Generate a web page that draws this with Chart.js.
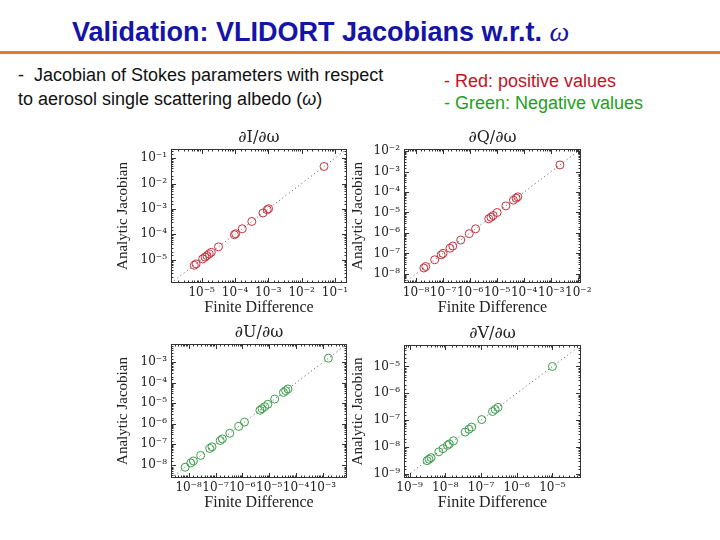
<!DOCTYPE html>
<html>
<head>
<meta charset="utf-8">
<script src="https://cdn.jsdelivr.net/npm/chart.js@4"></script>
<style>
body { margin: 0; width: 720px; height: 540px; background: #fff; position: relative; overflow: hidden; font-family: "Liberation Sans", Arial, sans-serif; }
.abs { position: absolute; white-space: nowrap; }
#title { left: 72px; top: 18px; font-size: 27px; line-height: 27px; font-weight: bold; color: #1414a8; }
#title i { font-family: "Liberation Serif", serif; font-weight: normal; font-size: 28px; }
#rule { left: 0; top: 51px; width: 720px; height: 3px; background: #e8782a; }
#desc { left: 18px; top: 63px; font-size: 18px; line-height: 24px; color: #111; }
#key { left: 444px; top: 70px; font-size: 18px; line-height: 22px; }
canvas { position: absolute; }
</style>
</head>
<body>
<div id="title" class="abs">Validation: VLIDORT Jacobians w.r.t. <i>ω</i></div>
<div id="rule" class="abs"></div>
<div id="desc" class="abs">-&nbsp; Jacobian of Stokes parameters with respect<br>to aerosol single scattering albedo (<i>ω</i>)</div>
<div id="key" class="abs"><span style="color:#c0141e">- Red: positive values</span><br><span style="color:#1e9e1e">- Green: Negative values</span></div>

<canvas id="cI" width="258" height="188" style="left:111px; top:129px"></canvas>
<canvas id="cQ" width="257" height="188" style="left:346px; top:129px"></canvas>
<canvas id="cU" width="258" height="188" style="left:111px; top:324px"></canvas>
<canvas id="cV" width="257" height="187" style="left:346px; top:325px"></canvas>

<script>
// finite difference (x) and analytic (y) Jacobians
const fdI = [6.0e-6, 6.8e-6, 1.07e-5, 1.26e-5, 1.44e-5, 1.67e-5, 1.95e-5, 3.2e-5, 9.6e-5, 1.05e-4, 1.65e-4, 3.2e-4, 6.9e-4, 9.3e-4, 1.02e-3, 4.7e-2];
const ajI = [6.0e-6, 6.8e-6, 1.07e-5, 1.26e-5, 1.44e-5, 1.67e-5, 1.95e-5, 3.2e-5, 9.6e-5, 1.05e-4, 1.65e-4, 3.2e-4, 6.9e-4, 9.3e-4, 1.02e-3, 4.7e-2];

const fdQ = [1.95e-8, 2.3e-8, 4.9e-8, 8.5e-8, 1.0e-7, 1.8e-7, 2.3e-7, 4.5e-7, 9.3e-7, 1.6e-6, 4.9e-6, 5.9e-6, 7.1e-6, 1.0e-5, 2.1e-5, 4.0e-5, 5.0e-5, 5.8e-5, 2.1e-3];
const ajQ = [1.95e-8, 2.3e-8, 4.9e-8, 8.5e-8, 1.0e-7, 1.8e-7, 2.3e-7, 4.5e-7, 9.3e-7, 1.6e-6, 4.9e-6, 5.9e-6, 7.1e-6, 1.0e-5, 2.1e-5, 4.0e-5, 5.0e-5, 5.8e-5, 2.1e-3];

const fdU = [7.4e-9, 1.2e-8, 1.5e-8, 2.8e-8, 6.1e-8, 7.4e-8, 1.5e-7, 1.8e-7, 3.4e-7, 7.4e-7, 1.2e-6, 4.5e-6, 5.4e-6, 6.8e-6, 8.9e-6, 1.6e-5, 3.4e-5, 4.1e-5, 5.0e-5, 1.6e-3];
const ajU = [7.4e-9, 1.2e-8, 1.5e-8, 2.8e-8, 6.1e-8, 7.4e-8, 1.5e-7, 1.8e-7, 3.4e-7, 7.4e-7, 1.2e-6, 4.5e-6, 5.4e-6, 6.8e-6, 8.9e-6, 1.6e-5, 3.4e-5, 4.1e-5, 5.0e-5, 1.6e-3];

const fdV = [3.1e-9, 3.5e-9, 4.0e-9, 6.6e-9, 8.7e-9, 1.15e-8, 1.3e-8, 1.7e-8, 3.6e-8, 4.6e-8, 5.5e-8, 1.05e-7, 2.1e-7, 2.5e-7, 3.0e-7, 1.0e-5];
const ajV = [3.1e-9, 3.5e-9, 4.0e-9, 6.6e-9, 8.7e-9, 1.15e-8, 1.3e-8, 1.7e-8, 3.6e-8, 4.6e-8, 5.5e-8, 1.05e-7, 2.1e-7, 2.5e-7, 3.0e-7, 1.0e-5];

// axis ranges (same on x and y, the dotted 1:1 line runs between them)
const rangeI = [1.2e-6, 0.23];
const rangeQ = [3.6e-9, 1.26e-2];
const rangeU = [2.2e-9, 7.9e-3];
const rangeV = [7.1e-10, 6.3e-5];

const RED = '#c8323f';
const GREEN = '#3c9e4a';

const SUP = { '-': '⁻', '0': '⁰', '1': '¹', '2': '²', '3': '³', '4': '⁴', '5': '⁵', '6': '⁶', '7': '⁷', '8': '⁸', '9': '⁹' };

function isPow10(v) {
    const e = Math.log10(v);
    return Math.abs(e - Math.round(e)) < 1e-6;
}

function pow10Label(v) {
    if (!isPow10(v)) return '';
    const e = String(Math.round(Math.log10(v)));
    return '10' + e.split('').map(c => SUP[c]).join('');
}

// box around the plot, inward tick marks and the panel title
const framePlugin = {
    id: 'frame',
    afterDatasetsDraw(chart, args, opts) {
        const { ctx, chartArea: a, scales } = chart;
        ctx.save();
        ctx.strokeStyle = '#333';
        ctx.lineWidth = 1;
        ctx.strokeRect(a.left + 0.5, a.top + 0.5, a.width - 1, a.height - 1);
        ctx.beginPath();
        scales.x.ticks.forEach(t => {
            const px = Math.round(scales.x.getPixelForValue(t.value)) + 0.5;
            if (px < a.left + 2 || px > a.right - 2) return;
            const len = isPow10(t.value) ? 5 : 2.5;
            ctx.moveTo(px, a.bottom); ctx.lineTo(px, a.bottom - len);
            ctx.moveTo(px, a.top); ctx.lineTo(px, a.top + len);
        });
        scales.y.ticks.forEach(t => {
            const py = Math.round(scales.y.getPixelForValue(t.value)) + 0.5;
            if (py < a.top + 2 || py > a.bottom - 2) return;
            const len = isPow10(t.value) ? 5 : 2.5;
            ctx.moveTo(a.left, py); ctx.lineTo(a.left + len, py);
            ctx.moveTo(a.right, py); ctx.lineTo(a.right - len, py);
        });
        ctx.stroke();
        ctx.fillStyle = '#222';
        ctx.font = '16px "DejaVu Serif"';
        ctx.textAlign = 'center';
        ctx.textBaseline = 'middle';
        ctx.fillText(opts.text, (a.left + a.right) / 2, a.top - 11);
        ctx.restore();
    }
};

function makePanel(id, title, fd, aj, range, color, wy) {
    new Chart(document.getElementById(id), {
        type: 'scatter',
        data: {
            datasets: [{
                data: fd.map((v, i) => ({ x: v, y: aj[i] })),
                borderColor: color,
                backgroundColor: 'rgba(0,0,0,0)',
                pointRadius: 4,
                pointHoverRadius: 4,
                borderWidth: 1
            }, {
                type: 'line',
                data: [{ x: range[0], y: range[0] }, { x: range[1], y: range[1] }],
                borderColor: '#555',
                borderWidth: 1,
                borderDash: [1, 3],
                pointRadius: 0,
                fill: false
            }]
        },
        options: {
            responsive: false,
            animation: false,
            events: [],
            layout: { padding: { top: 20, right: 22, left: 0, bottom: 0 } },
            plugins: {
                legend: { display: false },
                tooltip: { enabled: false },
                frame: { text: title }
            },
            scales: {
                x: {
                    type: 'logarithmic',
                    min: range[0],
                    max: range[1],
                    afterFit: s => { s.height = 34; },
                    grid: { display: false, drawTicks: false },
                    border: { display: false },
                    ticks: { autoSkip: false, maxRotation: 0, padding: 3, color: '#222', font: { family: 'DejaVu Serif', size: 12 }, callback: pow10Label },
                    title: { display: true, text: 'Finite Difference', color: '#222', font: { family: 'Liberation Serif', size: 16 }, padding: { top: 0, bottom: 0 } }
                },
                y: {
                    type: 'logarithmic',
                    min: range[0],
                    max: range[1],
                    afterFit: s => { s.width = wy; },
                    grid: { display: false, drawTicks: false },
                    border: { display: false },
                    ticks: { autoSkip: false, padding: 4, color: '#222', font: { family: 'DejaVu Serif', size: 12 }, callback: pow10Label },
                    title: { display: true, text: 'Analytic Jacobian', color: '#222', font: { family: 'Liberation Serif', size: 15 }, padding: { top: 3, bottom: 0 } }
                }
            }
        },
        plugins: [framePlugin]
    });
}

makePanel('cI', '∂I/∂ω', fdI, ajI, rangeI, RED, 60);
makePanel('cQ', '∂Q/∂ω', fdQ, ajQ, rangeQ, RED, 58);
makePanel('cU', '∂U/∂ω', fdU, ajU, rangeU, GREEN, 60);
makePanel('cV', '∂V/∂ω', fdV, ajV, rangeV, GREEN, 58);
</script>
</body>
</html>
